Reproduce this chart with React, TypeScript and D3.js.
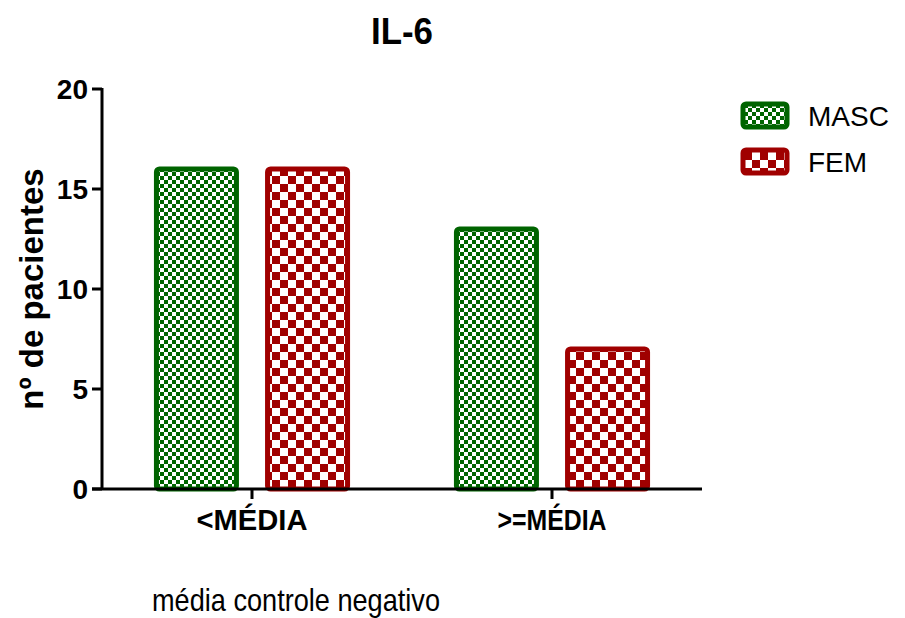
import React from "react";
import * as d3 from "d3";

const categories = ["<MÉDIA", ">=MÉDIA"];
const seriesNames = ["MASC", "FEM"];
const masc = [16, 13];
const fem = [16, 7];
const yTicks = [0, 5, 10, 15, 20];
const colors = ["#006400", "#A00000"];

export default function App() {
  const W = 905, H = 618;
  const left = 102, right = 702, top = 89, bottom = 489;
  const y = d3.scaleLinear().domain([0, 20]).range([bottom, top]);
  const x0 = d3.scaleBand().domain(categories).range([left, right]);
  const x1 = d3.scaleBand().domain(seriesNames).range([0, x0.bandwidth()]).paddingInner(0.28).paddingOuter(0.49);
  const values = [masc, fem];
  const font = "Arial, 'Liberation Sans', sans-serif";
  return (
    <svg width={W} height={H} style={{ position: "absolute", left: 0, top: 0 }}>
      <defs>
        <pattern id="pg" width={8} height={8} patternUnits="userSpaceOnUse">
          <rect width={8} height={8} fill="#fff" />
          <rect width={4} height={4} fill={colors[0]} />
          <rect x={4} y={4} width={4} height={4} fill={colors[0]} />
        </pattern>
        <pattern id="pr" width={16} height={16} patternUnits="userSpaceOnUse">
          <rect width={16} height={16} fill="#fff" />
          <rect width={8} height={8} fill={colors[1]} />
          <rect x={8} y={8} width={8} height={8} fill={colors[1]} />
        </pattern>
      </defs>
      <rect width={W} height={H} fill="#fff" />
      <text x={402} y={44} textAnchor="middle" fontFamily={font} fontWeight="bold" fontSize={37} textLength={62} lengthAdjust="spacingAndGlyphs">IL-6</text>
      {categories.map((c, ci) =>
        seriesNames.map((s, si) => {
          const v = values[si][ci];
          const bx = (x0(c) as number) + (x1(s) as number);
          return (
            <rect key={c + s} x={bx} y={y(v)} width={x1.bandwidth()} height={bottom - y(v)}
              fill={si === 0 ? "url(#pg)" : "url(#pr)"} stroke={colors[si]} strokeWidth={5} rx={3} />
          );
        })
      )}
      {/* y axis */}
      <line x1={left} x2={left} y1={top - 1} y2={bottom} stroke="#000" strokeWidth={3} />
      {yTicks.map((t) => (
        <g key={t}>
          <line x1={left - 10} x2={left} y1={y(t)} y2={y(t)} stroke="#000" strokeWidth={3} />
          <text x={left - 14} y={y(t)} dy="0.36em" textAnchor="end" fontFamily={font} fontWeight="bold" fontSize={28}>{t}</text>
        </g>
      ))}
      {/* x axis */}
      <line x1={left - 10} x2={right} y1={bottom} y2={bottom} stroke="#000" strokeWidth={3} />
      {categories.map((c, i) => {
        const cx = (x0(c) as number) + x0.bandwidth() / 2;
        return (
          <g key={c}>
            <line x1={cx} x2={cx} y1={bottom} y2={bottom + 10} stroke="#000" strokeWidth={3} />
            <text x={cx} y={530} textAnchor="middle" fontFamily={font} fontWeight="bold" fontSize={29} textLength={i === 0 ? 111 : 109} lengthAdjust="spacingAndGlyphs">{c}</text>
          </g>
        );
      })}
      <text transform={`translate(43,${(top + bottom) / 2}) rotate(-90)`} textAnchor="middle" fontFamily={font} fontWeight="bold" fontSize={33}>nº de pacientes</text>
      <text x={296} y={611} textAnchor="middle" fontFamily={font} fontSize={32} textLength={288} lengthAdjust="spacingAndGlyphs">média controle negativo</text>
      {seriesNames.map((s, i) => (
        <g key={s}>
          <rect x={743} y={104 + i * 46} width={44} height={23} rx={3}
            fill={i === 0 ? "url(#pg)" : "url(#pr)"} stroke={colors[i]} strokeWidth={5} />
          <text x={808} y={116 + i * 46} dy="0.36em" fontFamily={font} fontSize={28}>{s}</text>
        </g>
      ))}
    </svg>
  );
}
